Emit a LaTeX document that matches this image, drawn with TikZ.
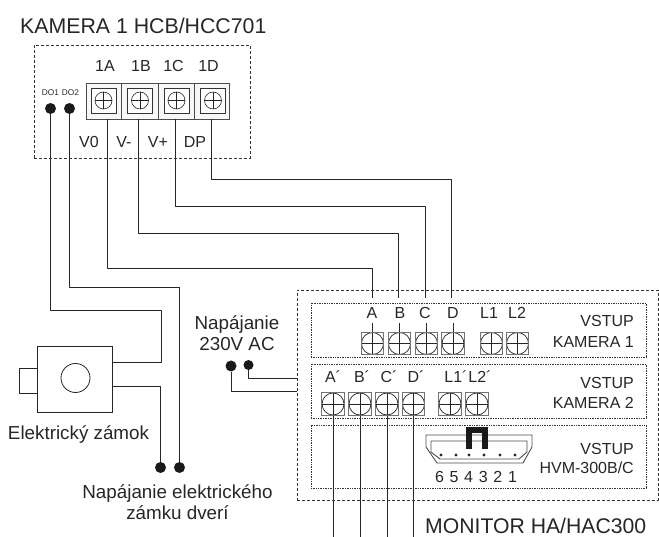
\documentclass[tikz,border=0pt]{standalone}
\usepackage{fontspec}
\setmainfont{Liberation Sans}
\begin{document}
\begin{tikzpicture}
[
x=1pt,y=-1pt,
txt/.style={inner sep=0pt,text=black!85,font=\fontsize{#1}{21}\selectfont,align=center},
txt/.default=16,
framebox/.style={draw=black!80,densely dashed,line width=0.7pt,inner sep=0pt},
dotbox/.style={draw=black!80,densely dotted,line width=0.7pt,inner sep=0pt},
wire/.style={draw=black!85,line width=0.8pt,line join=round},
shell/.style={draw=black!85,line width=0.8pt,inner sep=0pt},
terminal/.style={circle,fill=black!90,inner sep=0pt,minimum size=#1},
terminal/.default=11pt,
blockcell/.style={draw=black!70,line width=0.8pt,fill=black!3,minimum height=36pt,inner sep=0pt,minimum width=#1},
blockscrew/.style={draw=black!80,line width=0.9pt,fill=white,minimum size=25pt,inner sep=0pt,
            path picture={
                        \draw[line width=0.6pt,black!85] (path picture bounding box.center) circle (8.5pt);
                        \draw[line width=0.5pt,black!85] ([yshift=8.5pt]path picture bounding box.center) -- ([yshift=-8.5pt]path picture bounding box.center);
                        \draw[line width=0.5pt,black!85] ([xshift=-8.5pt]path picture bounding box.center) -- ([xshift=8.5pt]path picture bounding box.center);
            }
},
screwbig/.style={draw=black!55,line width=0.9pt,fill=white,inner sep=0pt,minimum size=22.5pt,
            path picture={
                        \draw[line width=0.7pt,black!85] (path picture bounding box.center) circle (11pt);
                        \draw[line width=0.5pt,black!85] (path picture bounding box.north) -- (path picture bounding box.south);
                        \draw[line width=0.5pt,black!85] (path picture bounding box.west) -- (path picture bounding box.east);
            }
},
]
\useasboundingbox (0,0) rectangle (659,537);

%Place the frames
\node[framebox,minimum width=216pt,minimum height=113pt] (cam) at (142,101.5) {};
\node[framebox,minimum width=361pt,minimum height=210pt] (mon) at (477.5,395) {};
\node[dotbox,minimum width=335pt,minimum height=54pt] (inone) at (478.5,330) {};
\node[dotbox,minimum width=335pt,minimum height=54pt] (intwo) at (478.5,391) {};
\node[dotbox,minimum width=335pt,minimum height=63pt] (inthree) at (478.5,456.5) {};

%Place the camera block
\node[blockcell=35.5pt] (ba) at (103.75,101) {};
\node[blockcell=36.5pt] (bb) at (139.75,101) {};
\node[blockcell=36.5pt] (bc) at (176.25,101) {};
\node[blockcell=34.5pt] (bd) at (211.75,101) {};
\node[blockscrew] (sa) at (103.5,100.5) {};
\node[blockscrew] (sb) at (140,100.5) {};
\node[blockscrew] (sc) at (176.5,100.5) {};
\node[blockscrew] (sd) at (213,100.5) {};
\node[terminal] (doa) at (50.5,108.5) {};
\node[terminal] (dob) at (69.5,108.5) {};
\coordinate (ca) at (107,119);
\coordinate (cb) at (138,119);
\coordinate (cc) at (175.5,119);
\coordinate (cd) at (211.5,119);

%Place the monitor terminals
\node[screwbig] (a) at (372.5,343.5) {};
\node[screwbig] (b) at (399.5,343.5) {};
\node[screwbig] (c) at (426.5,343.5) {};
\node[screwbig] (d) at (453,343.5) {};
\node[screwbig] (la) at (491.5,343.5) {};
\node[screwbig] (lb) at (517.5,343.5) {};
\node[screwbig] (aa) at (333,404) {};
\node[screwbig] (bb2) at (360,404) {};
\node[screwbig] (cc2) at (387,404) {};
\node[screwbig] (dd) at (413.5,404) {};
\node[screwbig] (laa) at (450,404) {};
\node[screwbig] (lbb) at (477,404) {};

%Place the lock
\node[shell,minimum width=18pt,minimum height=25pt] (bolt) at (28,380.5) {};
\node[shell,fill=white,minimum width=75pt,minimum height=66pt] (lock) at (74.5,379) {};
\node[shell,circle,minimum size=29pt] (knob) at (75.5,378) {};

%Place the other dots
\node[terminal] (pa) at (160.5,467.5) {};
\node[terminal] (pb) at (179.5,467.5) {};
\node[terminal] (aca) at (231,366) {};
\node[terminal=10pt] (acb) at (248.5,365) {};

%Place the HVM connector
\draw[draw=black!70,line width=0.9pt] (426,435) -- (532,435) -- (532,447) -- (523,463) -- (437,463) -- (426,447) -- cycle;
\draw[draw=black!70,line width=0.9pt] (431,452) -- (431,441) -- (527,441) -- (527,452) -- (519,459) -- (440,459) -- cycle;
\foreach \px in {441,456,469,484,500,515}
            \fill[black!85] (\px,455) circle (1.6pt);
\draw[line width=6pt,black!90] (469,449) -- (469,430) -- (485,430) -- (485,449);

%Place the free wire ends
\coordinate (wa) at (372,298);
\coordinate (wb) at (398.5,298);
\coordinate (wc) at (425,298);
\coordinate (wd) at (451.5,298);
\coordinate (ta) at (372,268);
\coordinate (tb) at (398.5,233);
\coordinate (tc) at (425,206);
\coordinate (td) at (451.5,179);
\coordinate (inb) at (297,378);
\coordinate (ina) at (297,391);
\coordinate (outa) at (333,537);
\coordinate (outb) at (360,537);
\coordinate (outc) at (387,537);
\coordinate (outd) at (413.5,537);
\coordinate (ra) at (161,310);
\coordinate (rb) at (179.5,287);

%Draw the connections
\draw[wire] (ca) |- (ta) -- (wa);
\draw[wire] (cb) |- (tb) -- (wb);
\draw[wire] (cc) |- (tc) -- (wc);
\draw[wire] (cd) |- (td) -- (wd);
\draw[wire] (a.north) -- ++(0,-9);
\draw[wire] (b.north) -- ++(0,-9);
\draw[wire] (c.north) -- ++(0,-9);
\draw[wire] (d.north) -- ++(0,-9);
\draw[wire] (aa.south) -- (outa);
\draw[wire] (bb2.south) -- (outb);
\draw[wire] (cc2.south) -- (outc);
\draw[wire] (dd.south) -- (outd);
\draw[wire] (doa) |- (ra) |- (lock.east |- 0,362);
\draw[wire] (lock.east |- 0,386) -| (pa);
\draw[wire] (dob) |- (rb) -- (pb);
\draw[wire] (aca) |- (ina);
\draw[wire] (acb) |- (inb);

%Place the labels
\node[txt=21.3,anchor=west] (title) at (20,26) {KAMERA 1 HCB/HCC701};
\node[txt] (lba) at (105,66) {1A};
\node[txt] (lbb) at (141,66) {1B};
\node[txt] (lbc) at (173.5,66) {1C};
\node[txt] (lbd) at (208.5,66) {1D};
\node[txt=8.3] (ldoa) at (50.5,93) {DO1};
\node[txt=8.3] (ldob) at (70.5,93) {DO2};
\node[txt] (lvo) at (89,142) {V0};
\node[txt] (lvm) at (124,142) {V-};
\node[txt] (lvp) at (158,142) {V+};
\node[txt] (ldp) at (195,142) {DP};
\node[txt] (tpa) at (372,313) {A};
\node[txt] (tpb) at (400,313) {B};
\node[txt] (tpc) at (425,313) {C};
\node[txt] (tpd) at (453,313) {D};
\node[txt] (tla) at (489,313) {L1};
\node[txt] (tlb) at (517,313) {L2};
\node[txt,anchor=east] (vsa) at (634,321) {VSTUP};
\node[txt,anchor=east] (kma) at (634,342) {KAMERA 1};
\node[txt] (tqa) at (333,377) {A´};
\node[txt] (tqb) at (362,377) {B´};
\node[txt] (tqc) at (389,377) {C´};
\node[txt] (tqd) at (416,377) {D´};
\node[txt] (tma) at (456,377) {L1´};
\node[txt] (tmb) at (480,377) {L2´};
\node[txt,anchor=east] (vsb) at (634,383) {VSTUP};
\node[txt,anchor=east] (kmb) at (634,403) {KAMERA 2};
\node[txt,anchor=east] (vsc) at (634,449) {VSTUP};
\node[txt,anchor=east] (hvm) at (634,468) {HVM-300B/C};
\node[txt] (pins) at (476,477) {\spaceskip=5.7pt\relax 6 5 4 3 2 1};
\node[txt=21.2,anchor=west] (montxt) at (425,525.5) {MONITOR HA/HAC300};
\node[txt=18.8] (actxt) at (237,333.5) {Napájanie\\230V AC};
\node[txt=18.8] (locktxt) at (78.5,435) {Elektrický zámok};
\node[txt=18.8] (doortxt) at (177.5,502.5) {Napájanie elektrického\\zámku dverí\hspace{15pt}};
\end{tikzpicture}
\end{document}
